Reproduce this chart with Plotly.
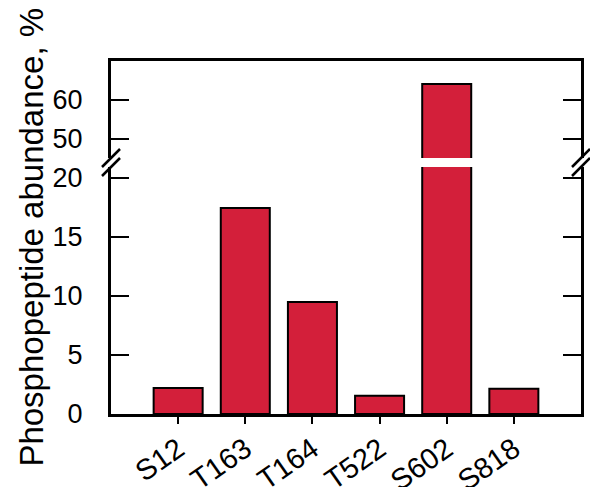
import plotly.graph_objects as go

# Phosphorylation sites and their relative phosphopeptide abundance (%)
sites = ["S12", "T163", "T164", "T522", "S602", "S818"]
abundance = [2.2, 17.45, 9.5, 1.55, 64.1, 2.15]

# Broken y axis: lower and upper segments
lower_ticks = [0, 5, 10, 15, 20]
upper_ticks = [50, 60]
lower_range = [0, 20.93]
upper_range = [45.13, 70.0]

BAR_COLOR = "#D31F3A"
FONT = "Arial, Liberation Sans, Helvetica, sans-serif"
LW = 2.5

lower_dom = [0.0, 0.6997]
upper_dom = [0.7252, 1.0]

fig = go.Figure()
bar_style = dict(
    marker=dict(color=BAR_COLOR, line=dict(color="black", width=2)),
    width=0.73,
    showlegend=False,
)
fig.add_trace(go.Bar(x=sites, y=abundance, xaxis="x", yaxis="y", **bar_style))
fig.add_trace(go.Bar(x=sites, y=abundance, xaxis="x2", yaxis="y2", **bar_style))
# invisible companions that carry the label-only y axes
ghost = dict(mode="markers", marker=dict(opacity=0), hoverinfo="skip", showlegend=False)
fig.add_trace(go.Scatter(x=sites, y=abundance, xaxis="x", yaxis="y3", **ghost))
fig.add_trace(go.Scatter(x=sites, y=abundance, xaxis="x2", yaxis="y4", **ghost))

# y axes that draw the frame and the inward ticks on both spines
yax_frame = dict(
    automargin=False,
    showgrid=False,
    zeroline=False,
    showline=True,
    linecolor="black",
    linewidth=LW,
    mirror="ticks",
    ticks="inside",
    ticklen=18,
    tickwidth=2,
    tickcolor="black",
    showticklabels=False,
)
# overlaid y axes that only carry the tick labels, set off from the spine
yax_labels = dict(
    automargin=False,
    showgrid=False,
    zeroline=False,
    showline=False,
    side="left",
    ticks="outside",
    ticklen=22,
    tickcolor="rgba(0,0,0,0)",
    tickfont=dict(family=FONT, size=27, color="black"),
)

fig.update_layout(
    width=590,
    height=487,
    margin=dict(l=111, r=9, t=61, b=73),
    paper_bgcolor="white",
    plot_bgcolor="white",
    xaxis=dict(
        anchor="y",
        domain=[0, 1],
        range=[-1, 6.0],
        automargin=False,
        showgrid=False,
        zeroline=False,
        showline=True,
        linecolor="black",
        linewidth=LW,
        ticks="outside",
        ticklen=7,
        tickwidth=2,
        tickcolor="black",
        tickangle=-35,
        ticklabelstandoff=-3,
        tickfont=dict(family=FONT, size=29, color="black"),
    ),
    xaxis2=dict(
        anchor="y2",
        domain=[0, 1],
        matches="x",
        side="top",
        automargin=False,
        showgrid=False,
        zeroline=False,
        showline=True,
        linecolor="black",
        linewidth=LW,
        ticks="",
        showticklabels=False,
    ),
    yaxis=dict(domain=lower_dom, range=lower_range, tickvals=lower_ticks, anchor="x", **yax_frame),
    yaxis2=dict(domain=upper_dom, range=upper_range, tickvals=upper_ticks, anchor="x2", **yax_frame),
    yaxis3=dict(overlaying="y", anchor="x", range=lower_range, tickvals=lower_ticks, **yax_labels),
    yaxis4=dict(overlaying="y2", anchor="x2", range=upper_range, tickvals=upper_ticks, **yax_labels),
)

# Axis-break marks on both spines
shapes = []
for xa in (0.0, 1.0):
    for ya in (lower_dom[1], upper_dom[0]):
        shapes.append(dict(
            type="line",
            xref="paper", yref="paper",
            xsizemode="pixel", ysizemode="pixel",
            xanchor=xa, yanchor=ya,
            x0=-9, x1=9, y0=-9, y1=9,
            line=dict(color="black", width=2.5),
        ))
fig.update_layout(shapes=shapes)

fig.add_annotation(
    text="Phosphopeptide abundance, %",
    xref="paper", yref="paper",
    x=-0.17, y=0.5,
    xanchor="center", yanchor="middle",
    textangle=-90,
    showarrow=False,
    font=dict(family=FONT, size=33, color="black"),
)

fig.write_html("out.html")
